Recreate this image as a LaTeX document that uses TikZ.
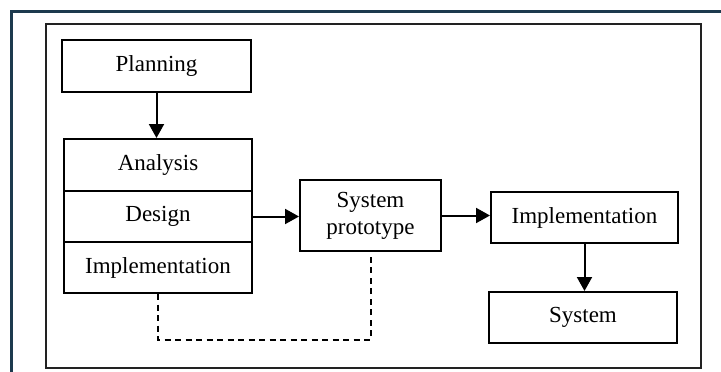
\documentclass[tikz,border=0pt]{standalone}
\usepackage{fontspec}
\setmainfont{Liberation Serif}
\usetikzlibrary{arrows.meta}
\definecolor{outerc}{HTML}{1D3A4E}
\definecolor{innerc}{HTML}{222222}
\tikzset{
  box/.style={draw, line width=2pt, inner sep=0pt, align=center,
    font=\fontsize{23}{27}\selectfont},
  flow/.style={line width=2pt, -{Triangle[length=14pt,width=15pt]}},
  backlink/.style={line width=2pt, dash pattern=on 6pt off 4.5pt}
}
\begin{document}
\begin{tikzpicture}[x=1pt,y=-1pt]
\useasboundingbox (0,0) rectangle (721,372);
% outer frame (only top and left visible)
\draw[line width=3pt, outerc] (11.5,372) -- (11.5,11) -- (721,11);
% inner frame
\draw[line width=1.3pt, innerc] (46,24) rectangle (701,368);

\node[box, minimum width=189pt, minimum height=52pt] (plan) at (156.5,66) {Planning};
\node[box, minimum width=188pt, minimum height=52pt] (ana) at (158,165) {Analysis};
\node[box, minimum width=188pt, minimum height=51pt] (des) at (158,216.5) {Design};
\node[box, minimum width=188pt, minimum height=51pt] (imp) at (158,267.5) {Implementation};
\node[box, minimum width=141pt, minimum height=71pt] (proto) at (370.5,215.5) {System\\prototype};
\node[box, minimum width=187pt, minimum height=51pt] (imp2) at (584.5,217.5) {Implementation};
\node[box, minimum width=188pt, minimum height=51pt] (sys) at (583,317.5) {System};

\coordinate (dashy) at (0,340);

\draw[flow] (plan.south) -- (plan.south |- ana.north);
\draw[flow] (des.east) -- (des.east -| proto.west);
\draw[flow] (proto.east) -- (proto.east -| imp2.west);
\draw[flow] (imp2.south) -- (imp2.south |- sys.north);
\draw[backlink] (imp.south) -- (imp.south |- dashy) -| (proto.south);
\end{tikzpicture}
\end{document}
